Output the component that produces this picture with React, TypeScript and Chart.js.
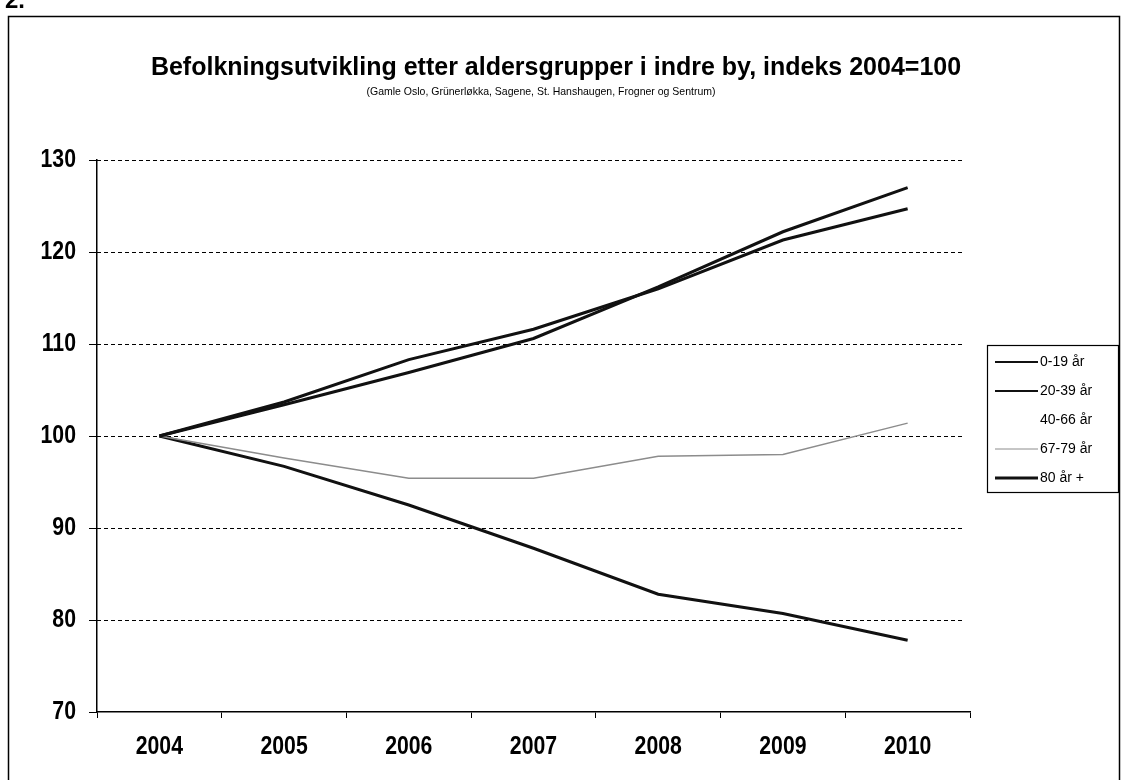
import React, { useEffect, useRef } from "react";
import { Chart, registerables } from "chart.js";

Chart.register(...registerables);

const years = ["2004", "2005", "2006", "2007", "2008", "2009", "2010"];
const age0to19 = [100, 103.7, 108.3, 111.6, 116.0, 121.3, 124.7];
const age20to39 = [100, 103.4, 106.9, 110.6, 116.2, 122.2, 127.0];
const age40to66: (number | null)[] = [null, null, null, null, null, null, null];
const age67to79 = [100, 97.6, 95.4, 95.4, 97.8, 98.0, 101.4];
const age80plus = [100, 96.7, 92.5, 87.8, 82.8, 80.7, 77.8];
const yTicks = [70, 80, 90, 100, 110, 120, 130];

const seriesNames = ["0-19 år", "20-39 år", "40-66 år", "67-79 år", "80 år +"];
const titleText = "Befolkningsutvikling etter aldersgrupper i indre by, indeks 2004=100";
const subtitleText = "(Gamle Oslo, Grünerløkka, Sagene, St. Hanshaugen, Frogner og Sentrum)";

const sans = "'Liberation Sans', Arial, sans-serif";
const tickFont = "bold 25px " + sans;
const squeeze = 0.85;

const colors = ["#111111", "#111111", "rgba(255,255,255,0)", "#8c8c8c", "#111111"];
const widths = [3, 3, 0, 1.5, 3];
const legendWidths = [2, 2, 0, 1, 3];

function squeezedText(ctx: CanvasRenderingContext2D, text: string, x: number, y: number) {
  ctx.save();
  ctx.translate(x, y);
  ctx.scale(squeeze, 1);
  ctx.fillText(text, 0, 0);
  ctx.restore();
}

const decor = {
  id: "decor",
  beforeDraw(chart: any) {
    const ctx = chart.ctx as CanvasRenderingContext2D;
    ctx.save();
    ctx.fillStyle = "#ffffff";
    ctx.fillRect(0, 0, chart.width, chart.height);
    // outer frame
    ctx.strokeStyle = "#000";
    ctx.lineWidth = 1.5;
    ctx.strokeRect(8.5, 16.5, 1111, 800);
    // page number fragment
    ctx.fillStyle = "#000";
    ctx.font = "bold 24px " + sans;
    ctx.textAlign = "left";
    ctx.textBaseline = "alphabetic";
    ctx.fillText("2.", 5, 8);
    // title
    ctx.textAlign = "center";
    ctx.font = "bold 25px " + sans;
    ctx.fillText(titleText, 556, 75);
    ctx.font = "10.5px " + sans;
    ctx.fillText(subtitleText, 541, 95);
    // dashed grid lines
    const y = chart.scales.y;
    const area = chart.chartArea;
    ctx.setLineDash([4, 3]);
    ctx.lineWidth = 1;
    ctx.strokeStyle = "#000";
    yTicks.forEach((v) => {
      if (v === y.min) return;
      const py = Math.round(y.getPixelForValue(v)) + 0.5;
      ctx.beginPath();
      ctx.moveTo(area.left, py);
      ctx.lineTo(area.right - 5, py);
      ctx.stroke();
    });
    ctx.restore();
  },
  afterDraw(chart: any) {
    const ctx = chart.ctx as CanvasRenderingContext2D;
    ctx.save();
    // tick labels (condensed bold)
    ctx.fillStyle = "#000";
    ctx.font = tickFont;
    ctx.textBaseline = "middle";
    const xs = chart.scales.x;
    ctx.textAlign = "center";
    xs.ticks.forEach((t: any, i: number) => {
      squeezedText(ctx, String(xs.getLabelForValue(t.value)), xs.getPixelForTick(i), 747);
    });
    const ys = chart.scales.y;
    ctx.textAlign = "right";
    ys.ticks.forEach((t: any) => {
      squeezedText(ctx, String(t.value), 76, ys.getPixelForValue(t.value));
    });
    // legend
    const bx = 987, by = 345, bw = 131, bh = 147;
    ctx.strokeStyle = "#000";
    ctx.lineWidth = 1.2;
    ctx.strokeRect(bx + 0.5, by + 0.5, bw, bh);
    ctx.font = "14px " + sans;
    ctx.textAlign = "left";
    ctx.textBaseline = "middle";
    ctx.fillStyle = "#000";
    seriesNames.forEach((name, i) => {
      const yy = by + 17 + i * 29;
      if (legendWidths[i] > 0) {
        ctx.strokeStyle = colors[i];
        ctx.lineWidth = legendWidths[i];
        ctx.beginPath();
        ctx.moveTo(995, yy);
        ctx.lineTo(1038, yy);
        ctx.stroke();
      }
      ctx.fillText(name, 1040, yy);
    });
    ctx.restore();
  },
};

export default function App() {
  const ref = useRef<HTMLCanvasElement | null>(null);
  useEffect(() => {
    if (!ref.current) return;
    const data = [age0to19, age20to39, age40to66, age67to79, age80plus];
    const chart = new Chart(ref.current, {
      type: "line",
      data: {
        labels: years,
        datasets: seriesNames.map((n, i) => ({
          label: n,
          data: data[i],
          borderColor: colors[i],
          borderWidth: widths[i],
          pointRadius: 0,
          tension: 0,
          fill: false,
        })),
      },
      options: {
        responsive: false,
        animation: false,
        layout: { padding: { left: 0, right: 153, top: 160, bottom: 0 } },
        plugins: {
          legend: { display: false },
          title: { display: false },
          tooltip: { enabled: false },
        },
        scales: {
          x: {
            type: "category",
            offset: true,
            grid: {
              display: true,
              drawOnChartArea: false,
              drawTicks: true,
              tickLength: 6,
              offset: true,
              color: "#000",
              lineWidth: 1,
            },
            border: { display: true, color: "#000", width: 1.5 },
            ticks: {
              color: "rgba(0,0,0,0)",
              font: { family: sans, size: 25, weight: "bold" },
              padding: 14,
              maxRotation: 0,
            },
            afterFit: (s: any) => {
              s.height = 68;
            },
          },
          y: {
            min: 70,
            max: 130,
            ticks: {
              stepSize: 10,
              color: "rgba(0,0,0,0)",
              font: { family: sans, size: 25, weight: "bold" },
              padding: 13,
            },
            grid: {
              drawOnChartArea: false,
              drawTicks: true,
              tickLength: 8,
              color: "#000",
            },
            border: { display: true, color: "#000", width: 1.5 },
            afterFit: (s: any) => {
              s.width = 97;
            },
          },
        },
      } as any,
      plugins: [decor],
    });
    return () => chart.destroy();
  }, []);
  return (
    <div style={{ position: "fixed", left: 0, top: 0, width: 1123, height: 780, background: "#fff" }}>
      <canvas ref={ref} width={1123} height={780} style={{ display: "block", width: 1123, height: 780 }} />
    </div>
  );
}
